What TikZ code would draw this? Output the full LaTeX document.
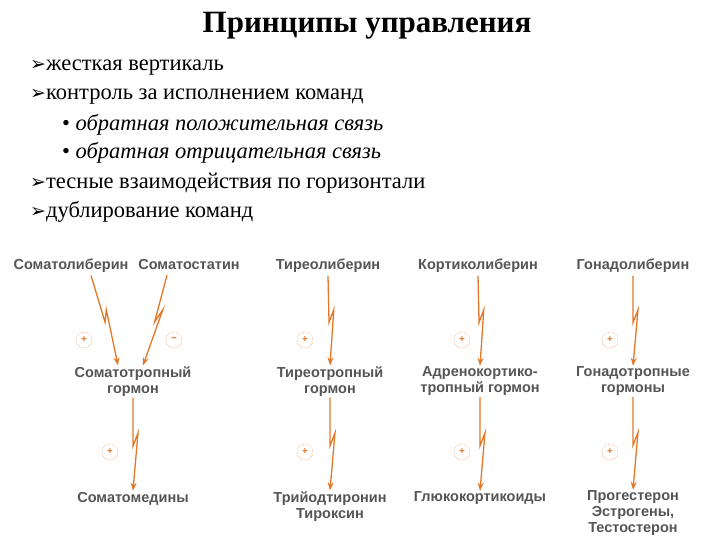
\documentclass[tikz,border=0pt]{standalone}
\usepackage{fontspec}
\setmainfont{Liberation Serif}
\setsansfont{Liberation Sans}
\newfontfamily\djfont{DejaVu Sans}
\usetikzlibrary{calc,arrows.meta}
\definecolor{org}{RGB}{226,120,40}
\definecolor{lab}{RGB}{85,85,85}
\tikzset{
  lbl/.style={font=\sffamily\bfseries\fontsize{14.5}{16}\selectfont,text=lab,align=center,inner sep=1pt,text depth=0pt},
  line/.style={font=\fontsize{22.5}{26}\selectfont,anchor=west,inner sep=0pt},
  sgn/.style={circle,draw=org,densely dotted,minimum size=16pt,inner sep=0pt,text=org,font=\sffamily\bfseries\normalsize},
  bolt/.style={draw=org,line width=1.3pt,-{Stealth[length=8pt,width=6pt]}}
}
\newcommand{\mybolt}[2]{\draw[bolt] (#1) -- ($(#1)!0.52!(#2)$) -- ($(#1)!0.38!(#2)+(5,0)$) -- (#2);}
\newcommand{\arr}{{\djfont\fontsize{19}{20}\selectfont ➢}}
\begin{document}
\begin{tikzpicture}[x=1pt,y=-1pt]
\useasboundingbox (0,0) rectangle (720,540);
\node[font=\bfseries\fontsize{31}{34}\selectfont] (title) at (367,26) {Принципы управления};
\node[line] (l1) at (30,68) {\arr жесткая вертикаль};
\node[line] (l2) at (30,97) {\arr контроль за исполнением команд};
\node[line] (l3) at (62,125) {• \textit{обратная положительная связь}};
\node[line] (l4) at (62,153) {• \textit{обратная отрицательная связь}};
\node[line] (l5) at (30,183) {\arr тесные взаимодействия по горизонтали};
\node[line] (l6) at (30,212) {\arr дублирование команд};

% column 1
\node[lbl] (a1) at (71,264) {Соматолиберин};
\node[lbl] (a2) at (189,264) {Соматостатин};
\node[lbl] (b1) at (133,380) {Соматотропный\\гормон};
\node[lbl] (c1) at (133,497) {Соматомедины};
\node[sgn] (s1) at (84,340) {+};
\node[sgn] (s2) at (174,340) {−};
\node[sgn] (s3) at (110,452) {+};
\coordinate (a1e) at ($(a1.south)+(20,5)$);
\coordinate (a2e) at ($(a2.south)+(-22,5)$);
\mybolt{a1e}{$(b1.north)+(-15,0)$}
\mybolt{a2e}{$(b1.north)+(10,0)$}
\mybolt{$(b1.south)+(0,3)$}{c1.north}

% column 2
\node[lbl] (a3) at (328,264) {Тиреолиберин};
\node[lbl] (b3) at (330,380) {Тиреотропный\\гормон};
\node[lbl] (c3) at (330,505) {Трийодтиронин\\Тироксин};
\node[sgn] (s4) at (305,340) {+};
\node[sgn] (s5) at (305,452) {+};
\mybolt{$(a3.south)+(0,5)$}{b3.north}
\mybolt{$(b3.south)+(0,3)$}{c3.north}

% column 3
\node[lbl] (a4) at (478,264) {Кортиколиберин};
\node[lbl] (b4) at (480,380) {Адренокортико-\\тропный гормон};
\node[lbl] (c4) at (480,497) {Глюкокортикоиды};
\node[sgn] (s6) at (462,340) {+};
\node[sgn] (s7) at (462,452) {+};
\mybolt{$(a4.south)+(0,5)$}{b4.north}
\mybolt{$(b4.south)+(0,3)$}{c4.north}

% column 4
\node[lbl] (a5) at (633,264) {Гонадолиберин};
\node[lbl] (b5) at (633,380) {Гонадотропные\\гормоны};
\node[lbl] (c5) at (633,512) {Прогестерон\\Эстрогены,\\Тестостерон};
\node[sgn] (s8) at (610,340) {+};
\node[sgn] (s9) at (610,452) {+};
\mybolt{$(a5.south)+(0,5)$}{b5.north}
\mybolt{$(b5.south)+(0,3)$}{c5.north}
\end{tikzpicture}
\end{document}
